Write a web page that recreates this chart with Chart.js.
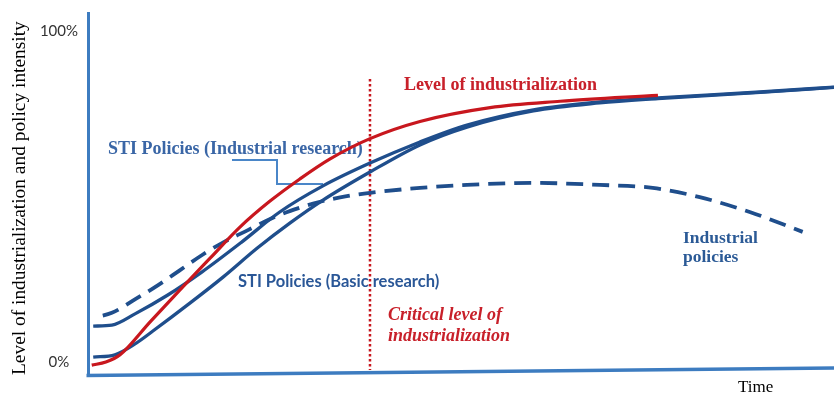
<!DOCTYPE html>
<html>
<head>
<meta charset="utf-8">
<script src="https://cdn.jsdelivr.net/npm/chart.js@4"></script>
<style>
  html, body { margin: 0; padding: 0; background: #fff; }
</style>
</head>
<body>
<canvas id="chart" width="834" height="393"></canvas>
<script>
// time axis runs 0..100, intensity in %
const industrializationX = [0.5, 2.4, 4.3, 8.3, 12.3, 16.4, 20.4, 24.4, 28.4, 32.4, 37.8, 44.5, 53.9, 63.3, 76.4];
const industrializationY = [-1.0, -0.1, 2.1, 12.0, 21.7, 31.4, 40.8, 48.6, 55.3, 61.3, 67.5, 72.7, 76.9, 78.8, 80.6];

const industrialResearchX = [0.7, 3.2, 6.3, 10.7, 15.3, 20.6, 25.7, 31.5, 37.8, 44.5, 50.8, 59.7, 68.6, 76.4, 90.1, 100];
const industrialResearchY = [10.8, 11.1, 14.5, 20.2, 27.2, 36.2, 45.3, 53.2, 60.1, 66.5, 71.6, 76.2, 78.6, 79.8, 81.6, 83.1];

const basicResearchX = [0.7, 3.6, 6.3, 8.7, 13.7, 18.1, 22.7, 27.1, 31.5, 37.8, 44.5, 50.8, 59.7, 68.6, 76.4, 90.1, 100];
const basicResearchY = [1.4, 2.1, 5.4, 9.3, 17.8, 25.6, 34.4, 42.0, 48.9, 57.4, 65.6, 71.0, 75.9, 78.3, 79.6, 81.5, 83.0];

const industrialPoliciesX = [1.2, 3.2, 6.4, 9.4, 12.2, 15.3, 18.2, 21.5, 24.8, 28.4, 31.1, 34.5, 37.8, 44.5, 50.8, 59.7, 68.6, 75.7, 82.0, 88.7, 95.8];
const industrialPoliciesY = [13.5, 14.8, 19.0, 23.2, 27.5, 32.3, 36.2, 39.9, 43.6, 46.6, 48.4, 50.0, 51.1, 52.6, 53.5, 54.1, 53.5, 52.6, 49.8, 45.3, 39.3];

const criticalX = [37.8, 37.8];
const criticalY = [85.5, -2.5];

const yTicks = [0, 100];
const yTickLabels = ['0%', '100%'];

const RED = '#C8171E';
const BLUE = '#1F4E8C';
const AXIS_BLUE = '#3D7CC0';

function pts(xs, ys) {
  return xs.map((x, i) => ({ x: x, y: ys[i] }));
}

const annotations = {
  id: 'annotations',
  beforeDatasetsDraw(chart) {
    const ctx = chart.ctx;
    const area = chart.chartArea;
    ctx.save();

    // slanted time axis
    ctx.strokeStyle = AXIS_BLUE;
    ctx.lineWidth = 3.5;
    ctx.beginPath();
    ctx.moveTo(area.left - 1.5, area.bottom + 0.5);
    ctx.lineTo(area.right, area.bottom - 7);
    ctx.stroke();

    // connector from the industrial research label
    ctx.strokeStyle = '#4A86C8';
    ctx.lineWidth = 2;
    ctx.beginPath();
    ctx.moveTo(232, 160);
    ctx.lineTo(277, 160);
    ctx.lineTo(277, 184);
    ctx.lineTo(323, 184);
    ctx.stroke();

    ctx.textAlign = 'left';
    ctx.textBaseline = 'alphabetic';

    ctx.fillStyle = '#C8202A';
    ctx.font = 'bold 18px "Liberation Serif"';
    ctx.fillText('Level of industrialization', 404, 90);

    ctx.font = 'italic bold 18px "Liberation Serif"';
    ctx.fillText('Critical level of', 388, 320);
    ctx.fillText('industrialization', 388, 341);

    ctx.fillStyle = '#3A66A6';
    ctx.font = 'bold 18px "Liberation Serif"';
    ctx.fillText('STI Policies (Industrial research)', 108, 154);

    ctx.fillStyle = '#2B5A96';
    ctx.font = 'bold 17.5px "Liberation Serif"';
    ctx.fillText('Industrial', 683, 243);
    ctx.fillText('policies', 683, 262);

    ctx.fillStyle = '#2A5797';
    ctx.font = 'bold 16.5px Lato';
    ctx.fillText('STI Policies (Basic research)', 238, 287);

    ctx.fillStyle = '#000';
    ctx.font = '17px "Liberation Serif"';
    ctx.fillText('Time', 738, 392);

    ctx.restore();
  }
};

new Chart(document.getElementById('chart'), {
  type: 'line',
  data: {
    datasets: [
      {
        label: 'Level of industrialization',
        data: pts(industrializationX, industrializationY),
        borderColor: RED,
        borderWidth: 3.2
      },
      {
        label: 'STI Policies (Industrial research)',
        data: pts(industrialResearchX, industrialResearchY),
        borderColor: BLUE,
        borderWidth: 3.3
      },
      {
        label: 'STI Policies (Basic research)',
        data: pts(basicResearchX, basicResearchY),
        borderColor: BLUE,
        borderWidth: 3.3
      },
      {
        label: 'Industrial policies',
        data: pts(industrialPoliciesX, industrialPoliciesY),
        borderColor: BLUE,
        borderWidth: 3.8,
        borderDash: [17, 9],
        borderDashOffset: -6
      },
      {
        label: 'Critical level of industrialization',
        data: pts(criticalX, criticalY),
        borderColor: RED,
        borderWidth: 2.5,
        borderDash: [2.5, 2.5],
        cubicInterpolationMode: 'default',
        tension: 0
      }
    ]
  },
  options: {
    responsive: false,
    animation: false,
    layout: { padding: { top: 13, bottom: 18, left: 0, right: 0 } },
    elements: {
      point: { radius: 0 },
      line: { cubicInterpolationMode: 'monotone', fill: false }
    },
    datasets: { line: { clip: false } },
    plugins: {
      legend: { display: false },
      tooltip: { enabled: false }
    },
    scales: {
      x: {
        type: 'linear',
        min: 0,
        max: 100,
        display: false
      },
      y: {
        type: 'linear',
        min: -4,
        max: 105.5,
        afterFit: (scale) => {
          scale.width = 88;
          scale.paddingTop = 0;
          scale.paddingBottom = 0;
        },
        afterBuildTicks: (scale) => { scale.ticks = yTicks.map(v => ({ value: v })); },
        ticks: {
          callback: (v) => yTickLabels[yTicks.indexOf(v)],
          padding: 10,
          crossAlign: 'center',
          color: '#333',
          font: { family: 'Lato', size: 15 }
        },
        grid: { display: false, drawTicks: false },
        border: { display: true, color: AXIS_BLUE, width: 3 },
        title: {
          display: true,
          text: 'Level of industrialization and policy intensity',
          align: 'start',
          color: '#000',
          font: { family: 'Liberation Serif', size: 19.4 },
          padding: { top: 8.5, bottom: 0 }
        }
      }
    }
  },
  plugins: [annotations]
});
</script>
</body>
</html>
